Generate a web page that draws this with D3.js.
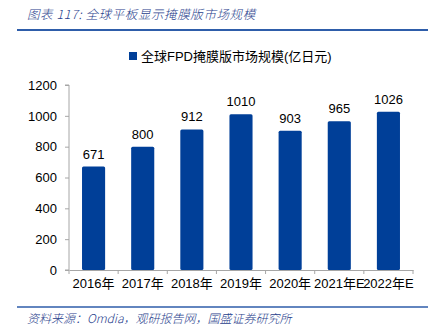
<!DOCTYPE html>
<html>
<head>
<meta charset="utf-8">
<script src="https://cdn.jsdelivr.net/npm/d3@7"></script>
<style>
  body { margin: 0; background: #fff; }
  svg { display: block; }
</style>
</head>
<body>
<svg width="431" height="331"></svg>
<script>
// chart data
var years = ["2016年", "2017年", "2018年", "2019年", "2020年", "2021年E", "2022年E"];
var market = [671, 800, 912, 1010, 903, 965, 1026];
var yTicks = [0, 200, 400, 600, 800, 1000, 1200];

var svg = d3.select("svg");
var font = "'Liberation Sans', 'Noto Sans CJK SC', sans-serif";
var blue = "#003F98";

// header / footer
svg.append("text").attr("x", 27).attr("y", 19)
  .attr("font-family", "'Noto Sans CJK SC', sans-serif").attr("font-size", 12.5)
  .attr("font-style", "italic").attr("font-weight", 300).attr("fill", "#1F3E8C")
  .attr("letter-spacing", 0.6)
  .text("图表 117:  全球平板显示掩膜版市场规模");
svg.append("line").attr("x1", 17).attr("x2", 428).attr("y1", 30).attr("y2", 30)
  .attr("stroke", "#2E5DAA").attr("stroke-width", 2);
svg.append("line").attr("x1", 17).attr("x2", 428).attr("y1", 307).attr("y2", 307)
  .attr("stroke", "#2E5DAA").attr("stroke-width", 1.5);
svg.append("text").attr("x", 27).attr("y", 323)
  .attr("font-family", "'Noto Sans CJK SC', sans-serif").attr("font-size", 12)
  .attr("font-style", "italic").attr("font-weight", 300).attr("fill", "#1F3E8C")
  .text("资料来源：Omdia，观研报告网，国盛证券研究所");

var x = d3.scaleBand().domain(years).range([69, 413]).paddingInner(0.53).paddingOuter(0.265);
var y = d3.scaleLinear().domain([0, 1200]).range([270, 85]);

// y axis
var yAxis = svg.append("g").attr("transform", "translate(69,0)")
  .call(d3.axisLeft(y).tickValues(yTicks).tickSize(4).tickPadding(8).tickFormat(d3.format("d")));
yAxis.select(".domain").attr("stroke", "#A6A6A6").attr("d", "M-4,85H0V270H-4");
yAxis.selectAll(".tick line").attr("stroke", "#A6A6A6");
yAxis.selectAll("text").attr("font-family", font).attr("font-size", 13).attr("fill", "#000");

// bars
svg.selectAll("rect.bar").data(market).enter().append("rect")
  .attr("class", "bar")
  .attr("x", function(d, i){ return x(years[i]); })
  .attr("y", function(d){ return y(d); })
  .attr("width", x.bandwidth())
  .attr("height", function(d){ return y(0) - y(d); })
  .attr("rx", 1.5)
  .attr("fill", blue);

svg.selectAll("text.val").data(market).enter().append("text")
  .attr("class", "val")
  .attr("x", function(d, i){ return x(years[i]) + x.bandwidth() / 2; })
  .attr("y", function(d){ return y(d) - 8; })
  .attr("text-anchor", "middle")
  .attr("font-family", font).attr("font-size", 13)
  .text(function(d){ return d; });

// x axis
var xAxis = svg.append("g").attr("transform", "translate(0,270)")
  .call(d3.axisBottom(x).tickSize(0).tickPadding(9));
xAxis.select(".domain").attr("stroke", "#A6A6A6");
xAxis.selectAll("text").attr("font-family", font).attr("font-size", 13).attr("fill", "#000");
var step = x.step();
svg.append("g").selectAll("line").data(d3.range(years.length + 1)).enter().append("line")
  .attr("x1", function(i){ return 69 + i * step; })
  .attr("x2", function(i){ return 69 + i * step; })
  .attr("y1", 270).attr("y2", 274)
  .attr("stroke", "#A6A6A6");

// legend
svg.append("rect").attr("x", 129).attr("y", 52).attr("width", 8).attr("height", 8).attr("fill", blue);
svg.append("text").attr("x", 141).attr("y", 61)
  .attr("font-family", font).attr("font-size", 13)
  .text("全球FPD掩膜版市场规模(亿日元)");
</script>
</body>
</html>
